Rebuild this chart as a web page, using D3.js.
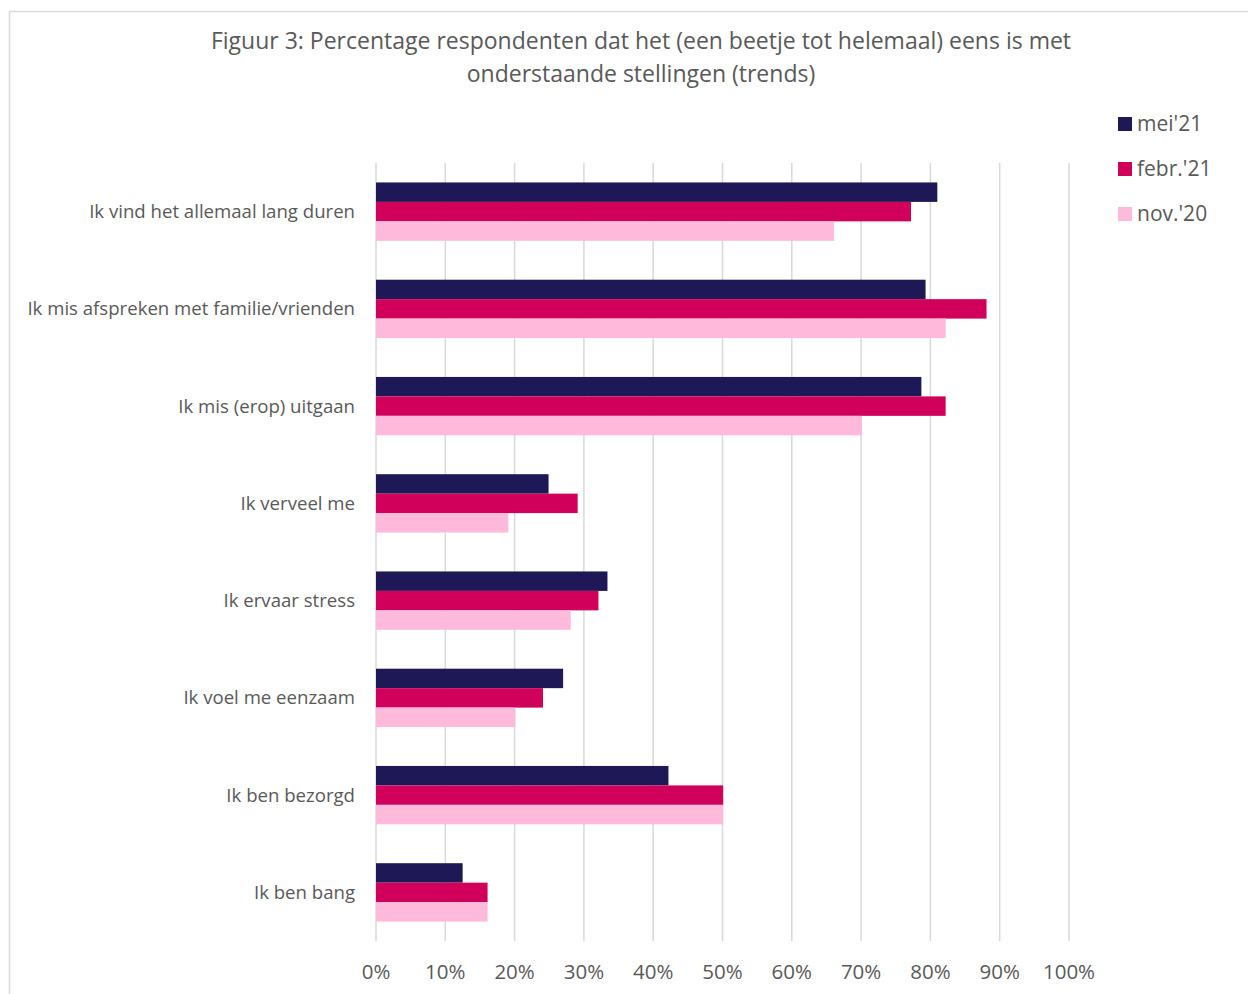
<!DOCTYPE html>
<html>
<head>
<meta charset="utf-8">
<script src="https://cdn.jsdelivr.net/npm/d3@7"></script>
<style>
  body { margin: 0; background: #fff; }
  text { font-family: "Open Sans", Lato, sans-serif; fill: #595959; }
</style>
</head>
<body>
<script>
// statements, top to bottom
const categories = [
  "Ik vind het allemaal lang duren",
  "Ik mis afspreken met familie/vrienden",
  "Ik mis (erop) uitgaan",
  "Ik verveel me",
  "Ik ervaar stress",
  "Ik voel me eenzaam",
  "Ik ben bezorgd",
  "Ik ben bang"
]
const seriesNames = ["mei'21", "febr.'21", "nov.'20"]
const mei21 = [81, 79.3, 78.7, 24.9, 33.4, 27, 42.2, 12.5]
const feb21 = [77.2, 88.1, 82.2, 29.1, 32.1, 24.1, 50.1, 16.1]
const nov20 = [66.1, 82.2, 70.1, 19.1, 28.1, 20.1, 50.1, 16.1]
const ticks = [0, 10, 20, 30, 40, 50, 60, 70, 80, 90, 100]
const colors = ["#1E1856", "#D0005B", "#FFB9DA"]

const W = 1248, H = 994
const m = { left: 376, right: 1069, top: 163, bottom: 941 }

const svg = d3.select("body").append("svg")
  .attr("width", W)
  .attr("height", H)

// chart frame
svg.append("rect")
  .attr("x", 9.5).attr("y", 11.5)
  .attr("width", 1260).attr("height", 1000)
  .attr("fill", "none")
  .attr("stroke", "#d9d9d9")
  .attr("stroke-width", 1.5)

// title
svg.append("text")
  .attr("x", 641).attr("y", 49)
  .attr("text-anchor", "middle")
  .attr("font-size", 23)
  .text("Figuur 3: Percentage respondenten dat het (een beetje tot helemaal) eens is met")
svg.append("text")
  .attr("x", 641).attr("y", 82)
  .attr("text-anchor", "middle")
  .attr("font-size", 23)
  .text("onderstaande stellingen (trends)")

const x = d3.scaleLinear().domain([0, 100]).range([m.left, m.right])
const y = d3.scaleBand().domain(categories).range([m.top, m.bottom]).paddingInner(0.4).paddingOuter(0.2)
const ySub = d3.scaleBand().domain(seriesNames).range([0, y.bandwidth()])

// gridlines
svg.append("g").selectAll("line")
  .data(ticks)
  .enter()
  .append("line")
    .attr("x1", d => x(d)).attr("x2", d => x(d))
    .attr("y1", m.top).attr("y2", m.bottom)
    .attr("stroke", "#d9d9d9")
    .attr("stroke-width", 1.5)

// x tick labels
svg.append("g").selectAll("text")
  .data(ticks)
  .enter()
  .append("text")
    .attr("x", d => x(d))
    .attr("y", 979)
    .attr("text-anchor", "middle")
    .attr("font-size", 20.5)
    .text(d => d + "%")

// category labels
svg.append("g").selectAll("text")
  .data(categories)
  .enter()
  .append("text")
    .attr("x", 355)
    .attr("y", d => y(d) + y.bandwidth() / 2)
    .attr("dy", "0.35em")
    .attr("text-anchor", "end")
    .attr("font-size", 18.6)
    .text(d => d)

// bars
const allSeries = [mei21, feb21, nov20]
const rows = []
categories.forEach(function(c, i) {
  allSeries.forEach(function(s, j) {
    rows.push({ cat: c, name: seriesNames[j], value: s[i], color: colors[j] })
  })
})

svg.append("g").selectAll("rect")
  .data(rows)
  .enter()
  .append("rect")
    .attr("x", x(0))
    .attr("y", d => y(d.cat) + ySub(d.name))
    .attr("width", d => x(d.value) - x(0))
    .attr("height", ySub.bandwidth())
    .attr("fill", d => d.color)

// legend
const legend = svg.append("g").selectAll("g")
  .data(seriesNames)
  .enter()
  .append("g")
    .attr("transform", (d, i) => "translate(1118," + (117 + i * 45) + ")")
legend.append("rect")
  .attr("width", 14).attr("height", 14)
  .attr("fill", (d, i) => colors[i])
legend.append("text")
  .attr("x", 19).attr("y", 7)
  .attr("dy", "0.35em")
  .attr("font-size", 21)
  .text(d => d)
</script>
</body>
</html>
